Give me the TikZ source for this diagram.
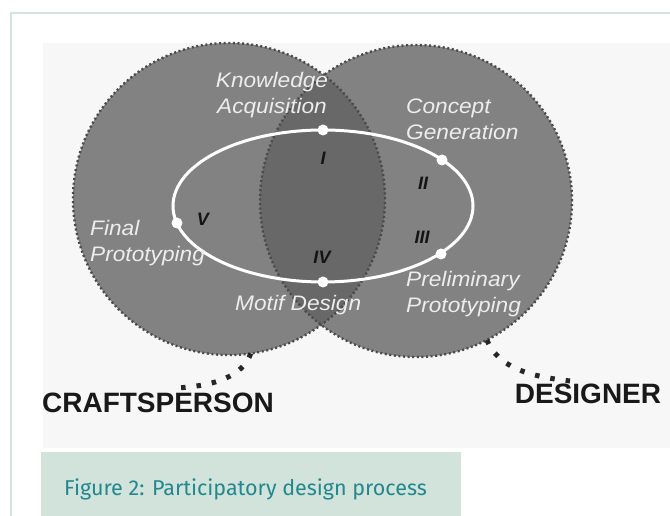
\documentclass[tikz,border=0pt]{standalone}
\usepackage{fontspec}
\setmainfont{Liberation Sans}
\newfontfamily\lblfont[FakeStretch=1.08]{Liberation Sans}
\newfontfamily\capfont{Fira Sans}
\definecolor{framecol}{HTML}{D3E4DF}
\definecolor{photobg}{HTML}{F7F7F7}
\definecolor{blobgray}{HTML}{828282}
\definecolor{lensgray}{HTML}{686868}
\definecolor{edgegray}{HTML}{4A4A4A}
\definecolor{labelgray}{HTML}{EDEDED}
\definecolor{numcol}{HTML}{141414}
\definecolor{capbg}{HTML}{D1E3DA}
\definecolor{captext}{HTML}{22888E}
\tikzset{
  blob/.style={circle, fill=blobgray, minimum size=312pt, inner sep=0pt, outer sep=0pt},
  blobedge/.style={draw=edgegray, line width=2.4pt, dash pattern=on 2pt off 2.6pt},
  ring/.style={draw=white, line width=3pt},
  stopdot/.style={circle, fill=white, minimum size=11pt, inner sep=0pt},
  phase/.style={text=labelgray, font=\lblfont\itshape\fontsize{21}{26}\selectfont, inner sep=0pt},
  numeral/.style={text=numcol, font=\bfseries\itshape\fontsize{18}{20}\selectfont, inner sep=0pt},
  role/.style={text=black!90, font=\bfseries\fontsize{28}{30}\selectfont, inner sep=0pt},
  leader/.style={draw=black!85, line width=5pt, dash pattern=on 4.5pt off 11pt},
}
\begin{document}
\begin{tikzpicture}[x=1pt,y=1pt]
\useasboundingbox (0,0) rectangle (670,516);
% frame lines
\draw[framecol, line width=1.2pt] (11,0) -- (11,503) -- (670,503);
% photo area
\fill[photobg] (43,68) rectangle (670,473);
% blobs
\node[blob] (craft) at (229,317) {};
\node[blob] (des) at (416,315) {};
\begin{scope}
  \clip (craft.center) circle (156);
  \fill[lensgray] (des.center) circle (156);
\end{scope}
\draw[blobedge] (craft.center) circle (156);
\draw[blobedge] (des.center) circle (156);
% process ring
\coordinate (E) at (323,310);
\draw[ring] (E) ellipse [x radius=150, y radius=76];
\node[stopdot] (ka) at (323,386) {};
\node[stopdot] (cg) at (442,356) {};
\node[stopdot] (pp) at (441,262) {};
\node[stopdot] (md) at (323,234) {};
\node[stopdot] (fp) at (177,293) {};
% phase labels
\node[phase, align=center] (kal) at (272,421) {Knowledge\\Acquisition};
\node[phase, align=left, anchor=west] (cgl) at (406,397) {Concept\\Generation};
\node[phase, align=left, anchor=west] (fpl) at (90,273) {Final\\Prototyping};
\node[phase, anchor=west] (mdl) at (235,211) {Motif Design};
\node[phase, align=left, anchor=west] (ppl) at (406,222) {Preliminary\\Prototyping};
% numerals
\node[numeral] (n1) at (323,358) {I};
\node[numeral] (n2) at (423,333) {II};
\node[numeral] (n3) at (422,279) {III};
\node[numeral] (n4) at (322,259) {IV};
\node[numeral] (n5) at (203,297) {V};
% roles
\node[role] (crl) at (158,113) {CRAFTSPERSON};
\node[role] (del) at (588,122) {DESIGNER};
\coordinate (crend) at (176,128);
\coordinate (deend) at (570,135);
\draw[leader] (craft.-82) .. controls (243,140) and (215,130) .. (crend);
\draw[leader] (des.-63) .. controls (498,150) and (525,140) .. (deend);
% caption
\fill[capbg] (41,0) rectangle (461,64);
\node[anchor=base west, inner sep=0pt, text=captext, font=\capfont\fontsize{21.5}{26}\selectfont] (cap) at (64,20) {Figure 2: Participatory design process};
\end{tikzpicture}
\end{document}
